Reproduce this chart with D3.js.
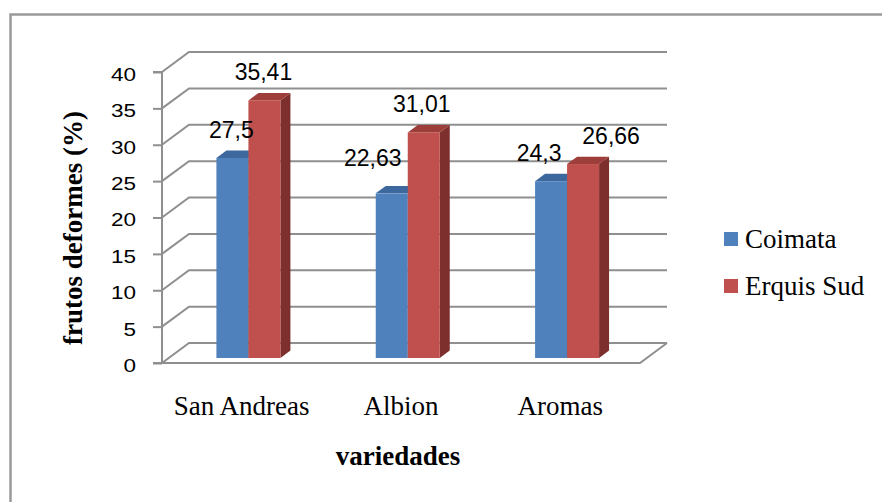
<!DOCTYPE html>
<html>
<head>
<meta charset="utf-8">
<script src="https://cdn.jsdelivr.net/npm/d3@7"></script>
<style>
  html, body { margin: 0; padding: 0; background: #fff; }
  svg { display: block; }
</style>
</head>
<body>
<svg id="chart" width="882" height="502"></svg>
<script>
// Data
const categories = ["San Andreas", "Albion", "Aromas"];
const seriesNames = ["Coimata", "Erquis Sud"];
const coimata = [27.5, 22.63, 24.3];
const erquisSud = [35.41, 31.01, 26.66];
const valueLabels = [["27,5", "22,63", "24,3"], ["35,41", "31,01", "26,66"]];
const yTicks = [0, 5, 10, 15, 20, 25, 30, 35, 40];

const series = [coimata, erquisSud];

// Colours for each series: front, top, side faces
const palette = [
  { front: "#4f81bd", top: "#3c689e", side: "#385d8a" },
  { front: "#c0504d", top: "#9e3e3b", side: "#7c2f2d" }
];

const svg = d3.select("#chart");

// Frame around the chart area
svg.append("rect")
  .attr("x", 10.5).attr("y", 14.5)
  .attr("width", 900).attr("height", 520)
  .attr("fill", "none").attr("stroke", "#9a9a9a").attr("stroke-width", 2.5);

// Front plane of the 3D box and depth offset
const plotLeft = 162, plotRight = 640;
const depthX = 27, depthY = -20;
const y = d3.scaleLinear().domain([0, 40]).range([363, 72]);
const x = d3.scaleBand().domain(categories).range([plotLeft, plotRight]);
const P = (px, py, f) => [px + f * depthX, py + f * depthY];

const gridColor = "#8f8f8f";
const grid = svg.append("g").attr("fill", "none").attr("stroke", gridColor).attr("stroke-width", 2);

// Side wall diagonals and back wall lines
yTicks.forEach(t => {
  const a = P(plotLeft, y(t), 0), b = P(plotLeft, y(t), 1), c = P(plotRight, y(t), 1);
  grid.append("path").attr("d", d3.line()([a, b, c]));
});
// Floor front edge and right edge
grid.append("path").attr("d", d3.line()([P(plotLeft, y(0), 0), P(plotRight, y(0), 0), P(plotRight, y(0), 1)]));

// Front value axis
const axis = d3.axisLeft(y).tickValues(yTicks).tickSize(9).tickPadding(17).tickFormat(d3.format("d"));
const axG = svg.append("g").attr("transform", `translate(${plotLeft},0)`).call(axis);
axG.select(".domain").attr("stroke", gridColor).attr("stroke-width", 2).attr("d", `M-9,${y(40)}H0V${y(0)}H-9`);
axG.selectAll(".tick line").attr("stroke", gridColor).attr("stroke-width", 2);
axG.selectAll(".tick text")
  .attr("font-family", "'Liberation Sans', Arial, sans-serif")
  .attr("font-size", 18)
  .attr("fill", "#000")
  .attr("dy", "0.36em")
  .each(function () {
    const t = d3.select(this);
    const tx = +t.attr("x");
    t.attr("x", null).attr("transform", `translate(${tx},2) scale(1.25,1)`);
  });

// Bars
const barW = 32, f0 = 0.25, f1 = 0.62;
const bars = svg.append("g");
categories.forEach((cat, ci) => {
  const cx = x(cat) + x.bandwidth() / 2;
  series.forEach((vals, si) => {
    const v = vals[ci];
    const xa = cx - barW + si * barW, xb = xa + barW;
    const col = palette[si];
    const yv = y(v), y0 = y(0);
    // side face
    bars.append("path").attr("fill", col.side)
      .attr("d", d3.line()([P(xb, y0, f0), P(xb, yv, f0), P(xb, yv, f1), P(xb, y0, f1)]) + "Z");
    // top face
    bars.append("path").attr("fill", col.top)
      .attr("d", d3.line()([P(xa, yv, f0), P(xb, yv, f0), P(xb, yv, f1), P(xa, yv, f1)]) + "Z");
    // front face
    const [fx, fy] = P(xa, yv, f0);
    bars.append("rect").attr("fill", col.front)
      .attr("x", fx).attr("y", fy).attr("width", barW).attr("height", y0 - yv);
  });
});

// Value labels (a few are moved aside to clear the neighbouring bar)
const labelShift = [[[-1, 0], [-19, -7], [-12, 0]], [[-1, 0], [-2, 0], [28, 0]]];
const labels = svg.append("g")
  .attr("font-family", "'Liberation Sans', Arial, sans-serif")
  .attr("font-size", 23).attr("fill", "#000").attr("text-anchor", "middle");
categories.forEach((cat, ci) => {
  const cx = x(cat) + x.bandwidth() / 2;
  series.forEach((vals, si) => {
    const xa = cx - barW + si * barW;
    const [fx, fy] = P(xa + barW / 2, y(vals[ci]), f0);
    const [dx, dy] = labelShift[si][ci];
    labels.append("text").attr("x", fx + dx).attr("y", fy - 20 + dy).text(valueLabels[si][ci]);
  });
});

// Category labels
svg.append("g")
  .attr("font-family", "'Liberation Serif', 'Times New Roman', serif")
  .attr("font-size", 27).attr("text-anchor", "middle").attr("fill", "#000")
  .selectAll("text").data(categories).join("text")
  .attr("x", d => x(d) + x.bandwidth() / 2)
  .attr("y", 415)
  .text(d => d);

// Axis titles
svg.append("text")
  .attr("font-family", "'Liberation Serif', 'Times New Roman', serif")
  .attr("font-size", 27).attr("font-weight", "bold").attr("text-anchor", "middle")
  .attr("x", 398).attr("y", 465).text("variedades");
svg.append("text")
  .attr("font-family", "'Liberation Serif', 'Times New Roman', serif")
  .attr("font-size", 27).attr("font-weight", "bold").attr("text-anchor", "middle")
  .attr("transform", "translate(82,228) rotate(-90)").text("frutos deformes (%)");

// Legend
const legend = svg.append("g")
  .attr("font-family", "'Liberation Serif', 'Times New Roman', serif")
  .attr("font-size", 27).attr("fill", "#000");
seriesNames.forEach((name, i) => {
  const ly = 248 + i * 47;
  legend.append("rect").attr("x", 724).attr("y", ly - 16).attr("width", 14).attr("height", 14)
    .attr("fill", palette[i].front);
  legend.append("text").attr("x", 745).attr("y", ly).text(name);
});
</script>
</body>
</html>
